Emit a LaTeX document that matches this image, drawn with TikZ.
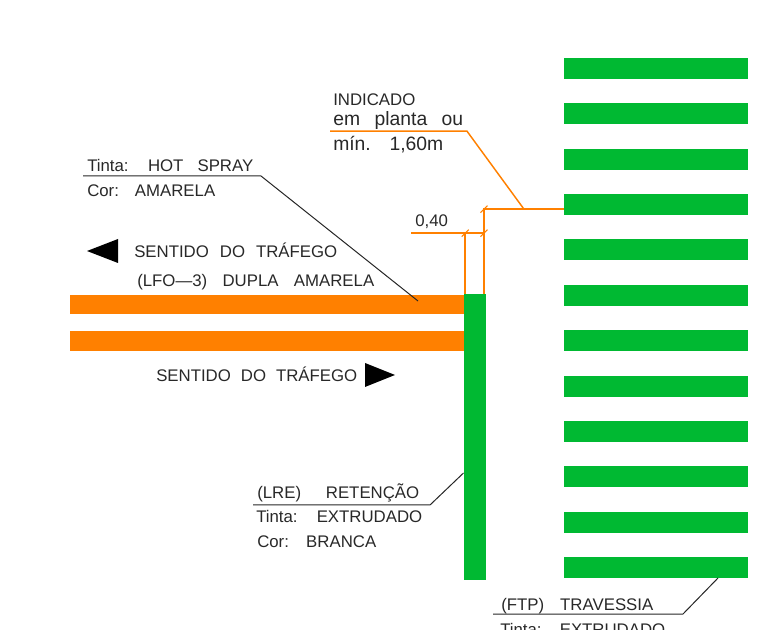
\documentclass[tikz,border=0pt]{standalone}
\usepackage{fontspec}
\setmainfont[WordSpace=2.2]{Liberation Sans}
\definecolor{faixalaranja}{RGB}{255,128,0}
\definecolor{faixaverde}{RGB}{0,185,50}
\definecolor{texto}{RGB}{40,40,40}
\newcommand{\ajuste}[2]{\makebox[#1\dimexpr0.75pt\relax][s]{#2}}
\tikzset{
    rotulo/.style={anchor=base west, inner sep=0pt, text=texto, font=\fontsize{12.6}{14}\selectfont},
    rotulomin/.style={rotulo, font=\fontsize{14.5}{16}\selectfont},
    cota/.style={draw=faixalaranja, line width=1.1pt},
    chamada/.style={draw=black!85, line width=0.75pt},
    tique/.style={draw=faixalaranja, line width=0.8pt}
}
\begin{document}
\begin{tikzpicture}[x=0.75pt, y=-0.75pt]
    \useasboundingbox (0,0) rectangle (764,630);
    \clip (0,0) rectangle (764,630);

    % Travessia
    \foreach \i in {0,...,11} {
        \fill[faixaverde] (564,58+45.36*\i) rectangle (748,79+45.36*\i);
    }

    % Dupla amarela
    \fill[faixalaranja] (70,295) rectangle (465,314.5);
    \fill[faixalaranja] (70,331) rectangle (465,351);

    % Retencao
    \fill[faixaverde] (463.5,294) rectangle (486,580);

    % Setas
    \fill[black] (87,251) -- (118,239) -- (118,263) -- cycle;
    \fill[black] (395,375) -- (365,363) -- (365,387) -- cycle;

    % Pontos das cotas e chamadas
    \coordinate (cotaA) at (465.2,294);
    \coordinate (cotaB) at (484,294);
    \coordinate (cotaAtopo) at (465.2,233.2);
    \coordinate (cotaBtopo) at (484,233.2);
    \coordinate (cotaBalto) at (484,209.2);
    \coordinate (cotaEsq) at (411,233.2);
    \coordinate (faixaTopo) at (564,209.2);
    \coordinate (indJoelho) at (524,209.2);
    \coordinate (indMeio) at (467,131.2);
    \coordinate (indEsq) at (330,131.2);
    \coordinate (hotEsq) at (83,176);
    \coordinate (hotMeio) at (261,176);
    \coordinate (hotFim) at (418,301);
    \coordinate (lreEsq) at (253,505);
    \coordinate (lreMeio) at (430,505);
    \coordinate (lreFim) at (463.5,473);
    \coordinate (ftpEsq) at (493,614);
    \coordinate (ftpMeio) at (683,614);
    \coordinate (ftpFim) at (718,578);

    % Cotas
    \draw[cota] (cotaEsq) -- (cotaBtopo);
    \draw[cota] (cotaA) -- (cotaAtopo);
    \draw[cota] (cotaB) -- (cotaBalto) -- (faixaTopo);
    \draw[cota] (indEsq) -- (indMeio) -- (indJoelho);
    \foreach \p in {cotaAtopo,cotaBtopo,cotaBalto} {
        \draw[tique] ([shift={(-3.5,3.5)}]\p) -- ([shift={(3.5,-3.5)}]\p);
    }

    % Chamadas
    \draw[chamada] (hotEsq) -- (hotMeio) -- (hotFim);
    \draw[chamada] (lreEsq) -- (lreMeio) -- (lreFim);
    \draw[chamada] (ftpEsq) -- (ftpMeio) -- (ftpFim);

    % Textos
    \node[rotulo] (indicado) at (333,106) {INDICADO};
    \node[rotulomin] (planta) at (333,126) {\ajuste{130}{em planta ou}};
    \node[rotulomin] (minimo) at (333,151) {\ajuste{110}{mín. 1,60m}};
    \node[rotulo] (largura) at (415,227) {0,40};
    \node[rotulo] (tintaHot) at (87,172) {\ajuste{166}{Tinta: HOT SPRAY}};
    \node[rotulo] (corAmarela) at (87,197) {\ajuste{128}{Cor: AMARELA}};
    \node[rotulo] (sentidoA) at (134,258) {\ajuste{203}{SENTIDO DO TRÁFEGO}};
    \node[rotulo] (lfo) at (137,287) {\ajuste{237}{(LFO\textemdash 3) DUPLA AMARELA}};
    \node[rotulo] (sentidoB) at (156,382) {\ajuste{201}{SENTIDO DO TRÁFEGO}};
    \node[rotulo] (lre) at (257,499) {\ajuste{162}{(LRE) RETENÇÃO}};
    \node[rotulo] (tintaLre) at (256,523) {\ajuste{166}{Tinta: EXTRUDADO}};
    \node[rotulo] (corBranca) at (257,548) {\ajuste{119}{Cor: BRANCA}};
    \node[rotulo] (ftp) at (501,610) {\ajuste{152}{(FTP) TRAVESSIA}};
    \node[rotulo] (tintaFtp) at (500,635) {\ajuste{165}{Tinta: EXTRUDADO}};
\end{tikzpicture}
\end{document}
